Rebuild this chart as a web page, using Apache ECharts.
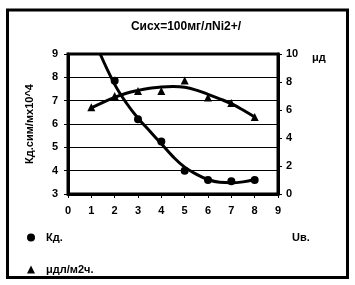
<!DOCTYPE html>
<html>
<head>
<meta charset="utf-8">
<script src="https://cdn.jsdelivr.net/npm/echarts@6/dist/echarts.min.js"></script>
<style>html,body{margin:0;padding:0;background:#fff}#c{width:355px;height:285px}</style>
</head>
<body>
<div id="c"></div>
<script>
var titleText = 'Сисх=100мг/лNi2+/';
var leftAxisName = 'Кд.сим/мх10^4';
var rightAxisName = 'μд';
var xAxisName = 'Uв.';
var kdName = 'Кд.';
var muName = 'μдл/м2ч.';

var xTicks = [0, 1, 2, 3, 4, 5, 6, 7, 8, 9];
var kdX = [2, 3, 4, 5, 6, 7, 8];
var kdValues = [7.85, 6.2, 5.25, 4.0, 3.6, 3.55, 3.6];
var muX = [1, 2, 3, 4, 5, 6, 7, 8];
var muValues = [6.2, 7.0, 7.35, 7.35, 8.1, 6.9, 6.5, 5.5];

// trendlines
var kdTrendX = [1.38, 2, 2.5, 3, 3.5, 4, 4.5, 5, 5.5, 6, 6.5, 7, 7.5, 8];
var kdTrendY = [9.0, 7.7, 6.9, 6.25, 5.7, 5.15, 4.6, 4.15, 3.85, 3.62, 3.5, 3.48, 3.52, 3.62];
var muTrendX = [1, 1.5, 2, 2.5, 3, 3.5, 4, 4.5, 5, 5.5, 6, 6.5, 7, 7.5, 8];
var muTrendY = [6.15, 6.55, 6.9, 7.2, 7.4, 7.55, 7.65, 7.67, 7.62, 7.42, 7.12, 6.8, 6.45, 6.0, 5.5];

function pairs(xs, ys) { return xs.map(function (x, i) { return [x, ys[i]]; }); }

var FONT = 'Liberation Sans';
var chart = echarts.init(document.getElementById('c'));
chart.setOption({
  animation: false,
  backgroundColor: '#fff',
  textStyle: { fontFamily: FONT, fontWeight: 'bold', color: '#000' },
  title: {
    text: titleText, left: 181, top: 16, textAlign: 'center',
    textStyle: { fontFamily: FONT, fontWeight: 'bold', fontSize: 12, color: '#000' }
  },
  grid: { left: 68, top: 54, width: 210, height: 140, show: true, borderColor: '#000', borderWidth: 3, backgroundColor: '#fff' },
  xAxis: {
    type: 'value', min: 0, max: 9, interval: 1,
    axisLine: { show: true, lineStyle: { color: '#000', width: 3 } },
    axisTick: { show: true, inside: false, length: 4, lineStyle: { color: '#000', width: 1 } },
    axisLabel: { margin: 11, fontSize: 11, fontWeight: 'bold', color: '#000', fontFamily: FONT,
      formatter: function (v) { return xTicks.indexOf(v) >= 0 ? String(v) : ''; } },
    splitLine: { show: false }
  },
  yAxis: [
    {
      type: 'value', min: 3, max: 9, interval: 1, position: 'left',
      name: leftAxisName, nameLocation: 'middle', nameGap: 33, nameRotate: 90,
      nameTextStyle: { fontFamily: FONT, fontWeight: 'bold', fontSize: 11, color: '#000' },
      axisLine: { show: true, lineStyle: { color: '#000', width: 3 } },
      axisTick: { show: true, inside: false, length: 4, lineStyle: { color: '#000', width: 1 } },
      axisLabel: { margin: 10, fontSize: 11, fontWeight: 'bold', color: '#000', fontFamily: FONT },
      splitLine: { show: true, lineStyle: { color: '#000', width: 1 } }
    },
    {
      type: 'value', min: 0, max: 10, interval: 2, position: 'right',
      axisLine: { show: true, lineStyle: { color: '#000', width: 3 } },
      axisTick: { show: true, inside: false, length: 4, lineStyle: { color: '#000', width: 1 } },
      axisLabel: { margin: 8, fontSize: 11, fontWeight: 'bold', color: '#000', fontFamily: FONT },
      splitLine: { show: false }
    }
  ],
  legend: {
    orient: 'vertical', left: 22, top: 227, itemGap: 21, itemWidth: 8, itemHeight: 8,
    itemStyle: { color: '#000', borderWidth: 0, opacity: 1 },
    data: [{ name: kdName, icon: 'circle' }, { name: muName, icon: 'triangle' }],
    textStyle: { fontFamily: FONT, fontWeight: 'bold', fontSize: 11, color: '#000', padding: [0, 0, 0, 6] }
  },
  graphic: [
    { type: 'rect', shape: { x: 7.5, y: 10, width: 340, height: 267.5 }, style: { fill: 'none', stroke: '#000', lineWidth: 3 }, z: 100 },
    { type: 'text', left: 312, top: 52, style: { text: rightAxisName, font: 'bold 11px "Liberation Sans"', fill: '#000' } },
    { type: 'text', left: 292, top: 232, style: { text: xAxisName, font: 'bold 11px "Liberation Sans"', fill: '#000' } }
  ],
  series: [
    { name: 'kdTrend', type: 'line', yAxisIndex: 0, data: pairs(kdTrendX, kdTrendY), smooth: 0.4, showSymbol: false,
      lineStyle: { color: '#000', width: 3 }, z: 2, silent: true },
    { name: 'muTrend', type: 'line', yAxisIndex: 1, data: pairs(muTrendX, muTrendY), smooth: 0.4, showSymbol: false,
      lineStyle: { color: '#000', width: 3 }, z: 2, silent: true },
    { name: kdName, type: 'scatter', yAxisIndex: 0, data: pairs(kdX, kdValues), symbol: 'circle', symbolSize: 8,
      itemStyle: { color: '#000', opacity: 1 }, z: 3 },
    { name: muName, type: 'scatter', yAxisIndex: 1, data: pairs(muX, muValues), symbol: 'triangle', symbolSize: 8,
      itemStyle: { color: '#000', opacity: 1 }, z: 3 }
  ]
});
</script>
</body>
</html>
